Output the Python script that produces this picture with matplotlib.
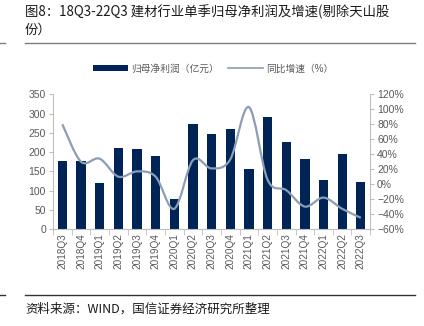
import numpy as np
import matplotlib
matplotlib.use("Agg")
import matplotlib.pyplot as plt
from matplotlib.path import Path
from matplotlib.patches import PathPatch, Patch
from matplotlib.lines import Line2D
from matplotlib.ticker import FuncFormatter

plt.rcParams["font.family"] = ["Liberation Sans", "Noto Sans CJK SC", "DejaVu Sans"]

quarters = ["2018Q3", "2018Q4", "2019Q1", "2019Q2", "2019Q3", "2019Q4",
            "2020Q1", "2020Q2", "2020Q3", "2020Q4", "2021Q1", "2021Q2",
            "2021Q3", "2021Q4", "2022Q1", "2022Q2", "2022Q3"]
profit = [178, 178, 119, 210, 207, 191, 77, 272, 246, 261, 157, 292,
          225, 181, 128, 194, 121]
growth = [80, 30, 34, 10, 17, 10, -33, 32, 21, 33, 103, 6, -8, -30, -18, -33, -45]

bar_color = "#002456"
line_color = "#8c9db5"
axis_color = "#bfbfbf"
text_color = "#595959"


def smooth_path(xs, ys, t=1 / 6):
    # Catmull-Rom through every point, written as cubic Bezier segments
    pts = np.column_stack([xs, ys]).astype(float)
    ext = np.vstack([pts[0], pts, pts[-1]])
    verts = [tuple(pts[0])]
    codes = [Path.MOVETO]
    for i in range(1, len(ext) - 2):
        p0, p1, p2, p3 = ext[i - 1], ext[i], ext[i + 1], ext[i + 2]
        c1 = p1 + (p2 - p0) * t
        c2 = p2 - (p3 - p1) * t
        verts += [tuple(c1), tuple(c2), tuple(p2)]
        codes += [Path.CURVE4] * 3
    return Path(verts, codes)


fig = plt.figure(figsize=(4.24, 3.26), dpi=100)
ax = fig.add_axes([0.125, 0.2975, 0.748, 0.413])
ax2 = ax.twinx()

x = np.arange(len(quarters))
ax.bar(x, profit, width=0.5, color=bar_color, zorder=2)
ax2.add_patch(PathPatch(smooth_path(x, growth), facecolor="none",
                        edgecolor=line_color, linewidth=1.6, zorder=3))

ax.set_xlim(-0.5, len(quarters) - 0.5)
ax.set_ylim(0, 350)
ax.set_yticks(range(0, 351, 50))
ax2.set_ylim(-60, 120)
ax2.set_yticks(range(-60, 121, 20))
ax2.yaxis.set_major_formatter(FuncFormatter(lambda v, p: f"{v:.0f}%".replace("-", "\u2212")))

ax.set_xticks(x)
ax.set_xticklabels(quarters, rotation=90)
ax.set_xticks(np.arange(-0.5, len(quarters), 1), minor=True)
ax.tick_params(axis="x", which="major", length=0, pad=3, labelsize=7.2, colors=text_color)
ax.tick_params(axis="x", which="minor", length=4, color=axis_color)
ax.tick_params(axis="y", length=3, color=axis_color, labelsize=7.5, labelcolor=text_color, pad=2)
ax2.tick_params(axis="y", length=3, color=axis_color, labelsize=7.5, labelcolor=text_color, pad=2)

for a in (ax, ax2):
    a.spines["top"].set_visible(False)
    for side in ("left", "right", "bottom"):
        a.spines[side].set_color(axis_color)
        a.spines[side].set_linewidth(0.8)
ax.spines["right"].set_visible(False)
ax2.spines["left"].set_visible(False)
ax2.spines["bottom"].set_visible(False)

handles = [Patch(facecolor=bar_color, edgecolor="none"),
           Line2D([], [], color=line_color, linewidth=1.2)]
fig.legend(handles, ["归母净利润（亿元）", "同比增速（%）"], ncol=2,
           loc="center", bbox_to_anchor=(0.503, 0.79), frameon=False,
           fontsize=7, handlelength=3.6, handleheight=0.45,
           columnspacing=1.0, handletextpad=0.3, labelcolor=text_color)

cjk = ["Noto Sans CJK SC", "DejaVu Sans"]
fig.text(0.059, 0.963, "图8：18Q3-22Q3 建材行业单季归母净利润及增速(剔除天山股",
         family=cjk, fontsize=9.6, va="center", ha="left", color="#1a1a1a")
fig.text(0.059, 0.908, "份）", family=cjk, fontsize=9.6, va="center",
         ha="left", color="#1a1a1a")
fig.text(0.059, 0.052, "资料来源：WIND，国信证券经济研究所整理", family=cjk,
         fontsize=9, va="center", ha="left", color="#1a1a1a")

# rules under the heading and above the source line
fig.add_artist(Line2D([0.059, 0.979], [0.867, 0.867], color="#7f7f7f", linewidth=1.0))
fig.add_artist(Line2D([0.059, 0.979], [0.095, 0.095], color="#333333", linewidth=1.0))
fig.add_artist(Line2D([0.0, 0.012], [0.867, 0.867], color="#7f7f7f", linewidth=1.0))
fig.add_artist(Line2D([0.0, 0.012], [0.095, 0.095], color="#333333", linewidth=1.0))

fig.savefig("out.png", dpi=100)
